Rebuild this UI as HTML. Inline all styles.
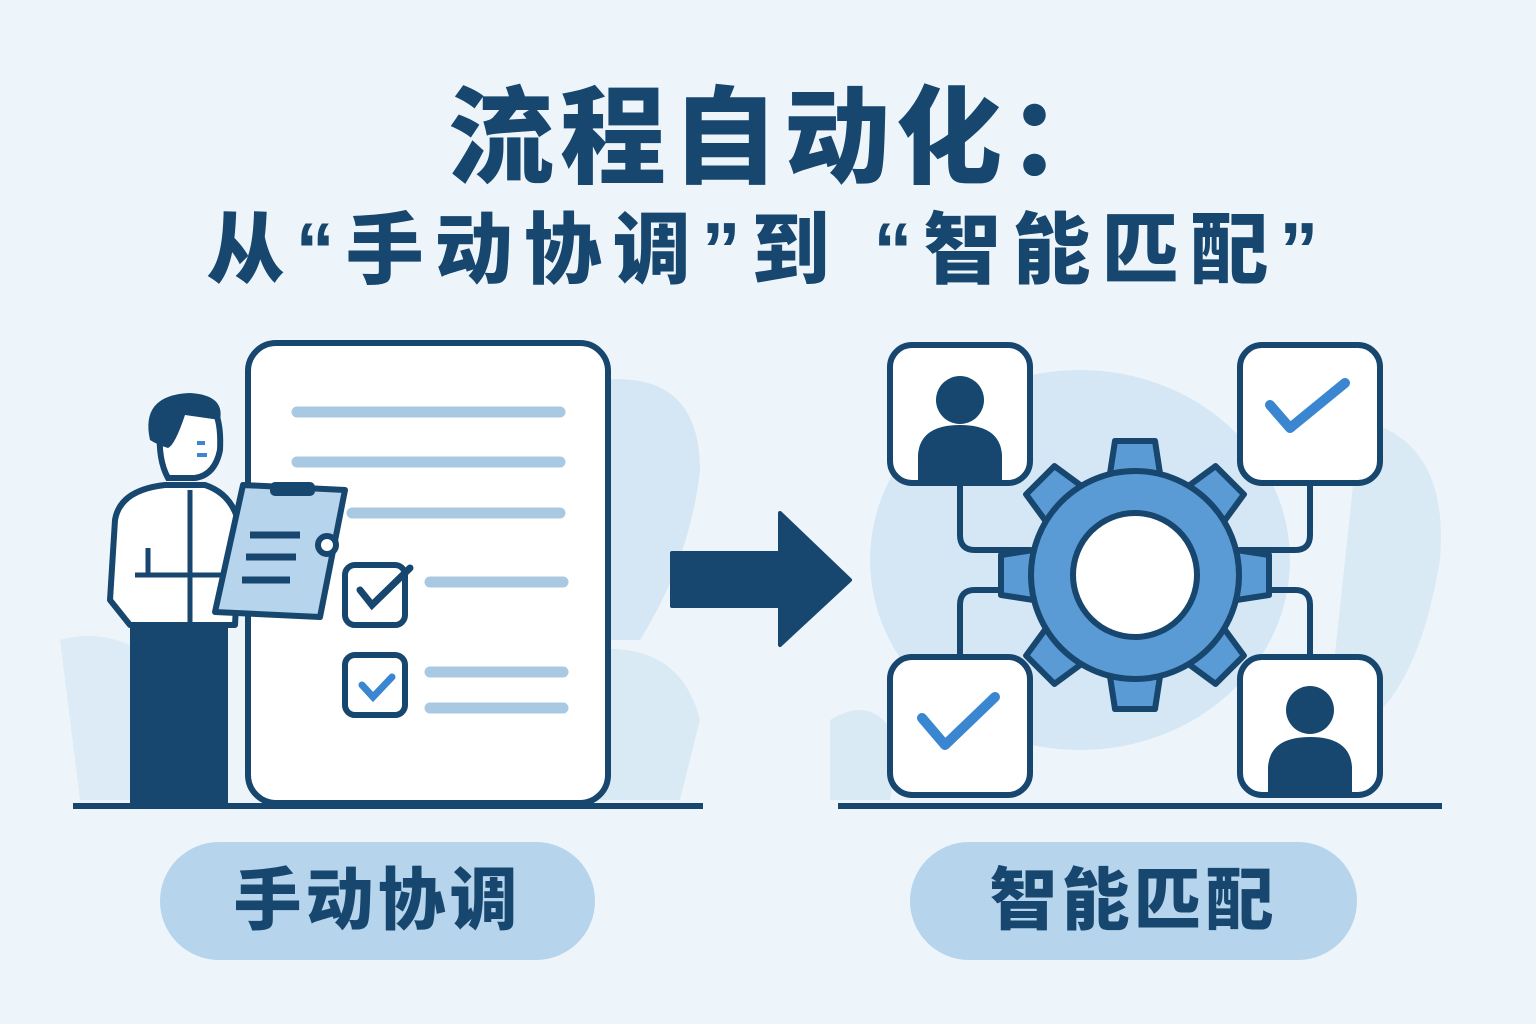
<!DOCTYPE html>
<html><head><meta charset="utf-8"><style>
html,body{margin:0;padding:0;width:1536px;height:1024px;overflow:hidden;background:#eef5fa}
.t{position:absolute;left:0;width:1536px;text-align:center;color:#17466e;font-family:"Liberation Sans","Noto Sans CJK SC",sans-serif;font-weight:900;white-space:nowrap}
.pill{position:absolute;background:#b6d4eb;border-radius:60px;color:#17466e;font-family:"Liberation Sans","Noto Sans CJK SC",sans-serif;font-weight:900;font-size:68px;text-align:center;line-height:118px;letter-spacing:4px}
</style></head><body>
<svg width="1536" height="1024" style="position:absolute;left:0;top:0">
<g fill="#d5e7f4">
<path d="M600 380 Q700 370 700 470 Q690 560 640 640 L600 640Z"/>
<path d="M60 640 Q130 620 200 700 L190 800 L80 800Z" opacity=".7"/>
<path d="M590 650 Q680 640 700 720 L680 800 L600 800Z" opacity=".8"/>
<ellipse cx="1080" cy="560" rx="210" ry="190"/>
<path d="M1360 420 Q1450 440 1440 560 Q1420 680 1370 720 L1330 700Z" opacity=".8"/>
<path d="M830 720 Q880 690 900 750 L890 800 L830 800Z" opacity=".8"/>
</g>
<g stroke="#17466e" stroke-width="6" stroke-linejoin="round" stroke-linecap="round">
<rect x="248" y="343" width="360" height="460" rx="28" fill="#fff"/>
<rect x="345" y="565" width="60" height="60" rx="10" fill="#fff"/>
<rect x="345" y="655" width="60" height="60" rx="10" fill="#fff"/>
</g>
<g stroke="#a9c8e2" stroke-width="11" stroke-linecap="round">
<line x1="297" y1="412" x2="560" y2="412"/>
<line x1="297" y1="462" x2="560" y2="462"/>
<line x1="352" y1="513" x2="560" y2="513"/>
<line x1="430" y1="582" x2="563" y2="582"/>
<line x1="430" y1="672" x2="563" y2="672"/>
<line x1="430" y1="708" x2="563" y2="708"/>
</g>
<path d="M360 590 L372 605 L410 568" fill="none" stroke="#17466e" stroke-width="7" stroke-linecap="round"/>
<path d="M362 685 L373 697 L392 677" fill="none" stroke="#3b86d0" stroke-width="7" stroke-linecap="round"/>
<path d="M130 625 L228 625 L228 805 L130 805Z" fill="#17466e"/>
<path d="M115 520 Q120 490 165 485 L205 485 Q235 495 240 530 L235 625 L130 625 L110 600 Z" fill="#fff" stroke="#17466e" stroke-width="6" stroke-linejoin="round"/>
<line x1="190" y1="490" x2="190" y2="625" stroke="#17466e" stroke-width="5"/>
<line x1="148" y1="548" x2="148" y2="575" stroke="#17466e" stroke-width="5"/>
<line x1="135" y1="575" x2="230" y2="575" stroke="#17466e" stroke-width="5"/>
<path d="M160 430 Q170 395 205 400 Q222 410 220 450 Q215 475 195 478 L168 478 Q158 460 160 430Z" fill="#fff" stroke="#17466e" stroke-width="6"/>
<path d="M150 440 Q140 395 190 393 Q225 395 220 420 L185 415 Q175 445 168 448 Q158 445 150 440Z" fill="#17466e"/>
<rect x="197" y="441" width="8" height="4" fill="#3b86d0"/><rect x="197" y="453" width="10" height="4" fill="#3b86d0"/>
<path d="M243 485 L345 490 L320 617 L215 612 Z" fill="#b6d4eb" stroke="#17466e" stroke-width="6" stroke-linejoin="round"/>
<rect x="270" y="482" width="45" height="14" rx="5" fill="#17466e"/>
<circle cx="327" cy="545" r="9" fill="#fff" stroke="#17466e" stroke-width="6"/>
<g stroke="#17466e" stroke-width="7"><line x1="250" y1="535" x2="300" y2="535"/><line x1="246" y1="557" x2="296" y2="557"/><line x1="242" y1="580" x2="290" y2="580"/></g>
<line x1="73" y1="806" x2="703" y2="806" stroke="#17466e" stroke-width="6"/>
<path d="M672 553 L780 553 L780 513 L850 580 L780 645 L780 606 L672 606Z" fill="#17466e" stroke="#17466e" stroke-width="4" stroke-linejoin="round"/>
<g fill="none" stroke="#17466e" stroke-width="6" stroke-linecap="round">
<path d="M960 483 L960 535 Q960 550 975 550 L1030 550"/>
<path d="M1310 483 L1310 535 Q1310 550 1295 550 L1240 550"/>
<path d="M960 657 L960 605 Q960 590 975 590 L1030 590"/>
<path d="M1310 657 L1310 605 Q1310 590 1295 590 L1240 590"/>
</g>
<g transform="translate(1135,575)" fill="#5b9bd5" stroke="#17466e" stroke-width="6" stroke-linejoin="round">
<path d="M-20 -134 L20 -134 L26 -95 L-26 -95Z"/>
<path d="M-20 -134 L20 -134 L26 -95 L-26 -95Z" transform="rotate(45)"/>
<path d="M-20 -134 L20 -134 L26 -95 L-26 -95Z" transform="rotate(90)"/>
<path d="M-20 -134 L20 -134 L26 -95 L-26 -95Z" transform="rotate(135)"/>
<path d="M-20 -134 L20 -134 L26 -95 L-26 -95Z" transform="rotate(180)"/>
<path d="M-20 -134 L20 -134 L26 -95 L-26 -95Z" transform="rotate(225)"/>
<path d="M-20 -134 L20 -134 L26 -95 L-26 -95Z" transform="rotate(270)"/>
<path d="M-20 -134 L20 -134 L26 -95 L-26 -95Z" transform="rotate(315)"/>
<circle r="104"/>
<circle r="62" fill="#fff"/>
</g>
<g fill="#fff" stroke="#17466e" stroke-width="6">
<rect x="890" y="345" width="140" height="138" rx="22"/>
<rect x="1240" y="345" width="140" height="138" rx="22"/>
<rect x="890" y="657" width="140" height="138" rx="22"/>
<rect x="1240" y="657" width="140" height="138" rx="22"/>
</g>
<g fill="#17466e">
<circle cx="960" cy="400" r="24"/><path d="M918 480 L918 455 Q920 425 960 425 Q1000 425 1002 455 L1002 480Z"/>
<circle cx="1310" cy="710" r="24"/><path d="M1268 792 L1268 767 Q1270 737 1310 737 Q1350 737 1352 767 L1352 792Z"/>
</g>
<g fill="none" stroke="#3b86d0" stroke-width="10" stroke-linecap="round" stroke-linejoin="round">
<path d="M1270 405 L1290 428 L1345 383"/>
<path d="M922 718 L945 745 L995 697"/>
</g>
<line x1="838" y1="806" x2="1442" y2="806" stroke="#17466e" stroke-width="6"/>
</svg>
<div class="t" style="top:52px;font-size:106px;letter-spacing:6px;left:16px">流程自动化：</div>
<div class="t" style="top:188px;font-size:78px;letter-spacing:11px;left:0px">从“手动协调”到 “智能匹配”</div>
<div class="pill" style="left:160px;top:842px;width:435px;height:118px">手动协调</div>
<div class="pill" style="left:910px;top:842px;width:447px;height:118px">智能匹配</div>
</body></html>
